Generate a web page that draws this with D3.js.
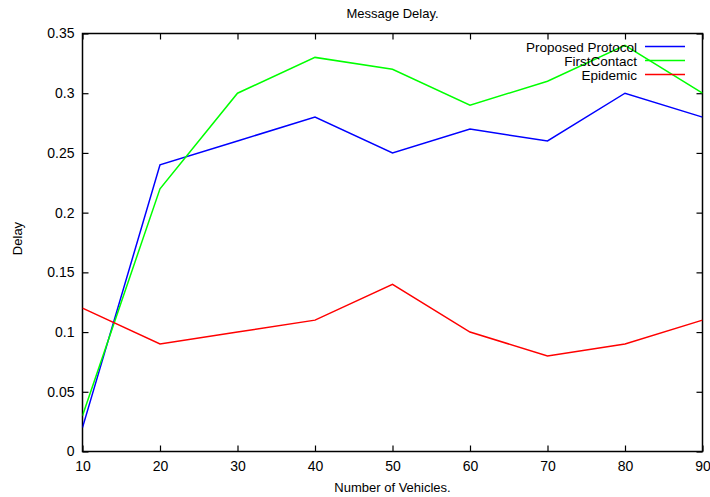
<!DOCTYPE html>
<html>
<head>
<meta charset="utf-8">
<script src="https://cdn.jsdelivr.net/npm/d3@7/dist/d3.min.js"></script>
<style>
  html, body { margin: 0; padding: 0; background: #fff; }
  svg { display: block; }
  text { font-family: "Liberation Sans", Arial, Helvetica, sans-serif; fill: #000; }
</style>
</head>
<body>
<svg id="chart" width="710" height="497"></svg>
<script>
// Number of vehicles on the x axis
const vehicles = [10, 20, 30, 40, 50, 60, 70, 80, 90];

// Message delay per protocol
const proposedProtocol = [0.02, 0.24, 0.26, 0.28, 0.25, 0.27, 0.26, 0.30, 0.28];
const firstContact     = [0.03, 0.22, 0.30, 0.33, 0.32, 0.29, 0.31, 0.34, 0.30];
const epidemic         = [0.12, 0.09, 0.10, 0.11, 0.14, 0.10, 0.08, 0.09, 0.11];

const seriesNames  = ["Proposed Protocol", "FirstContact", "Epidemic"];
const seriesColors = ["#0000ff", "#00ff00", "#ff0000"];
const seriesValues = [proposedProtocol, firstContact, epidemic];

const xTicks = [10, 20, 30, 40, 50, 60, 70, 80, 90];
const yTicks = [0, 0.05, 0.1, 0.15, 0.2, 0.25, 0.3, 0.35];

const svg = d3.select("#chart");
const plotLeft = 82.5, plotRight = 702.5, plotTop = 33.5, plotBottom = 451.5;

const x = d3.scaleLinear().domain([10, 90]).range([plotLeft, plotRight]);
const y = d3.scaleLinear().domain([0, 0.35]).range([plotBottom, plotTop]);

const fmtY = d => (d === 0 ? "0" : String(+d.toFixed(2)));

// Axes with inward ticks on all four sides
const tickLen = 6;
const gx = svg.append("g").attr("transform", `translate(0,${plotBottom})`)
  .call(d3.axisBottom(x).tickValues(xTicks).tickSize(-tickLen).tickPadding(10).tickFormat(d3.format("d")));
const gxTop = svg.append("g").attr("transform", `translate(0,${plotTop})`)
  .call(d3.axisTop(x).tickValues(xTicks).tickSize(-tickLen).tickFormat(""));
const gy = svg.append("g").attr("transform", `translate(${plotLeft},0)`)
  .call(d3.axisLeft(y).tickValues(yTicks).tickSize(-tickLen).tickPadding(8).tickFormat(fmtY));
const gyRight = svg.append("g").attr("transform", `translate(${plotRight},0)`)
  .call(d3.axisRight(y).tickValues(yTicks).tickSize(-tickLen).tickFormat(""));

[gx, gxTop, gy, gyRight].forEach(g => {
  g.select(".domain").remove();
  g.selectAll(".tick line").attr("stroke", "#000").attr("stroke-width", 1.2);
  g.selectAll(".tick text").attr("font-size", 14)
    .style("font-family", '"Liberation Sans", Arial, sans-serif').attr("fill", "#000");
});

// Plot border
svg.append("rect")
  .attr("x", plotLeft).attr("y", plotTop)
  .attr("width", plotRight - plotLeft).attr("height", plotBottom - plotTop)
  .attr("fill", "none").attr("stroke", "#000").attr("stroke-width", 1.5);

// Series lines
const line = d3.line().x((d, i) => x(vehicles[i])).y(d => y(d));
svg.append("clipPath").attr("id", "plot-clip")
  .append("rect").attr("x", plotLeft).attr("y", plotTop - 2)
  .attr("width", plotRight - plotLeft).attr("height", plotBottom - plotTop + 4);

svg.append("g").attr("clip-path", "url(#plot-clip)")
  .selectAll("path.series")
  .data(seriesValues)
  .join("path")
  .attr("class", "series")
  .attr("d", line)
  .attr("fill", "none")
  .attr("stroke", (d, i) => seriesColors[i])
  .attr("stroke-width", 1.5)
  .attr("stroke-linejoin", "miter");

// Legend (top right, text right-aligned before the sample line)
const legend = svg.append("g");
seriesNames.forEach((name, i) => {
  const ly = 46.5 + i * 14;
  legend.append("text")
    .attr("x", 637).attr("y", ly + 5)
    .attr("text-anchor", "end")
    .attr("font-size", 13.5)
    .text(name);
  legend.append("line")
    .attr("x1", 645).attr("x2", 685)
    .attr("y1", ly).attr("y2", ly)
    .attr("stroke", seriesColors[i]).attr("stroke-width", 1.5);
});

// Title and axis labels
svg.append("text")
  .attr("x", (plotLeft + plotRight) / 2).attr("y", 18)
  .attr("text-anchor", "middle").attr("font-size", 13)
  .text("Message Delay.");

svg.append("text")
  .attr("x", (plotLeft + plotRight) / 2).attr("y", 492)
  .attr("text-anchor", "middle").attr("font-size", 13)
  .text("Number of Vehicles.");

svg.append("text")
  .attr("transform", `translate(22,${(plotTop + plotBottom) / 2 - 4}) rotate(-90)`)
  .attr("text-anchor", "middle").attr("font-size", 13)
  .text("Delay");
</script>
</body>
</html>
